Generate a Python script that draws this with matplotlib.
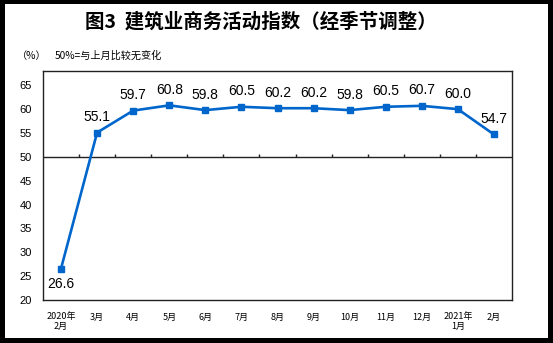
import matplotlib
matplotlib.use("Agg")
import matplotlib.pyplot as plt
from matplotlib.patches import Rectangle

categories = ["2020年\n2月", "3月", "4月", "5月", "6月", "7月", "8月", "9月",
              "10月", "11月", "12月", "2021年\n1月", "2月"]
values = [26.6, 55.1, 59.7, 60.8, 59.8, 60.5, 60.2, 60.2, 59.8, 60.5, 60.7, 60.0, 54.7]
yticks = [20, 25, 30, 35, 40, 45, 50, 55, 60, 65]

W, H = 553, 343
fig = plt.figure(figsize=(W / 100, H / 100), dpi=100)
fig.patch.set_facecolor("black")
fig.patches.append(Rectangle((5 / W, 5 / H), 543 / W, 334 / H, transform=fig.transFigure,
                             facecolor="white", edgecolor="none", zorder=-1))

cjk = ["Noto Sans CJK SC", "DejaVu Sans"]
num = ["Liberation Sans", "DejaVu Sans"]

ax = fig.add_axes([43 / W, (H - 300) / H, (512 - 43) / W, (300 - 71) / H])
ax.set_zorder(2)
ax.set_facecolor("white")
x = list(range(len(values)))
ax.plot(x, values, color="#0066CC", lw=1.9, marker="s", ms=4.5, zorder=3)
ax.set_xlim(-0.5, len(values) - 0.5)
ax.set_ylim(20, 68)
ax.set_yticks(yticks)
ax.set_yticklabels([str(v) for v in yticks], fontfamily=num, fontsize=8)
ax.tick_params(axis="y", length=0, pad=8)
ax.set_xticks(x)
ax.set_xticklabels(categories, fontfamily=cjk, fontsize=6.5, linespacing=1.1)
ax.tick_params(axis="x", length=0, pad=9)
for s in ax.spines.values():
    s.set_color("#222222")
    s.set_linewidth(1.0)

ax.axhline(50, color="#222222", lw=1.0, zorder=2)
ax.vlines([i + 0.5 for i in x[:-1]], 50, 50.6, color="#222222", lw=1.0, zorder=2)

for i, v in enumerate(values):
    if i == 0:
        ax.annotate(f"{v:.1f}", (i, v), xytext=(0, -6), textcoords="offset points",
                    ha="center", va="top", fontfamily=num, fontsize=10)
    else:
        ax.annotate(f"{v:.1f}", (i, v), xytext=(0, 6), textcoords="offset points",
                    ha="center", va="bottom", fontfamily=num, fontsize=10)

fig.text(261 / W, 1 - 22 / H, "图3  建筑业商务活动指数（经季节调整）", ha="center", va="center",
         fontfamily=cjk, fontsize=14, fontweight="bold")
fig.text(17 / W, 1 - 56 / H, "（%）", ha="left", va="center", fontfamily=cjk, fontsize=7.3)
fig.text(55 / W, 1 - 56 / H, "50%=与上月比较无变化", ha="left", va="center", fontfamily=cjk, fontsize=7.3)

fig.savefig("out.png", dpi=100, facecolor=fig.get_facecolor())
